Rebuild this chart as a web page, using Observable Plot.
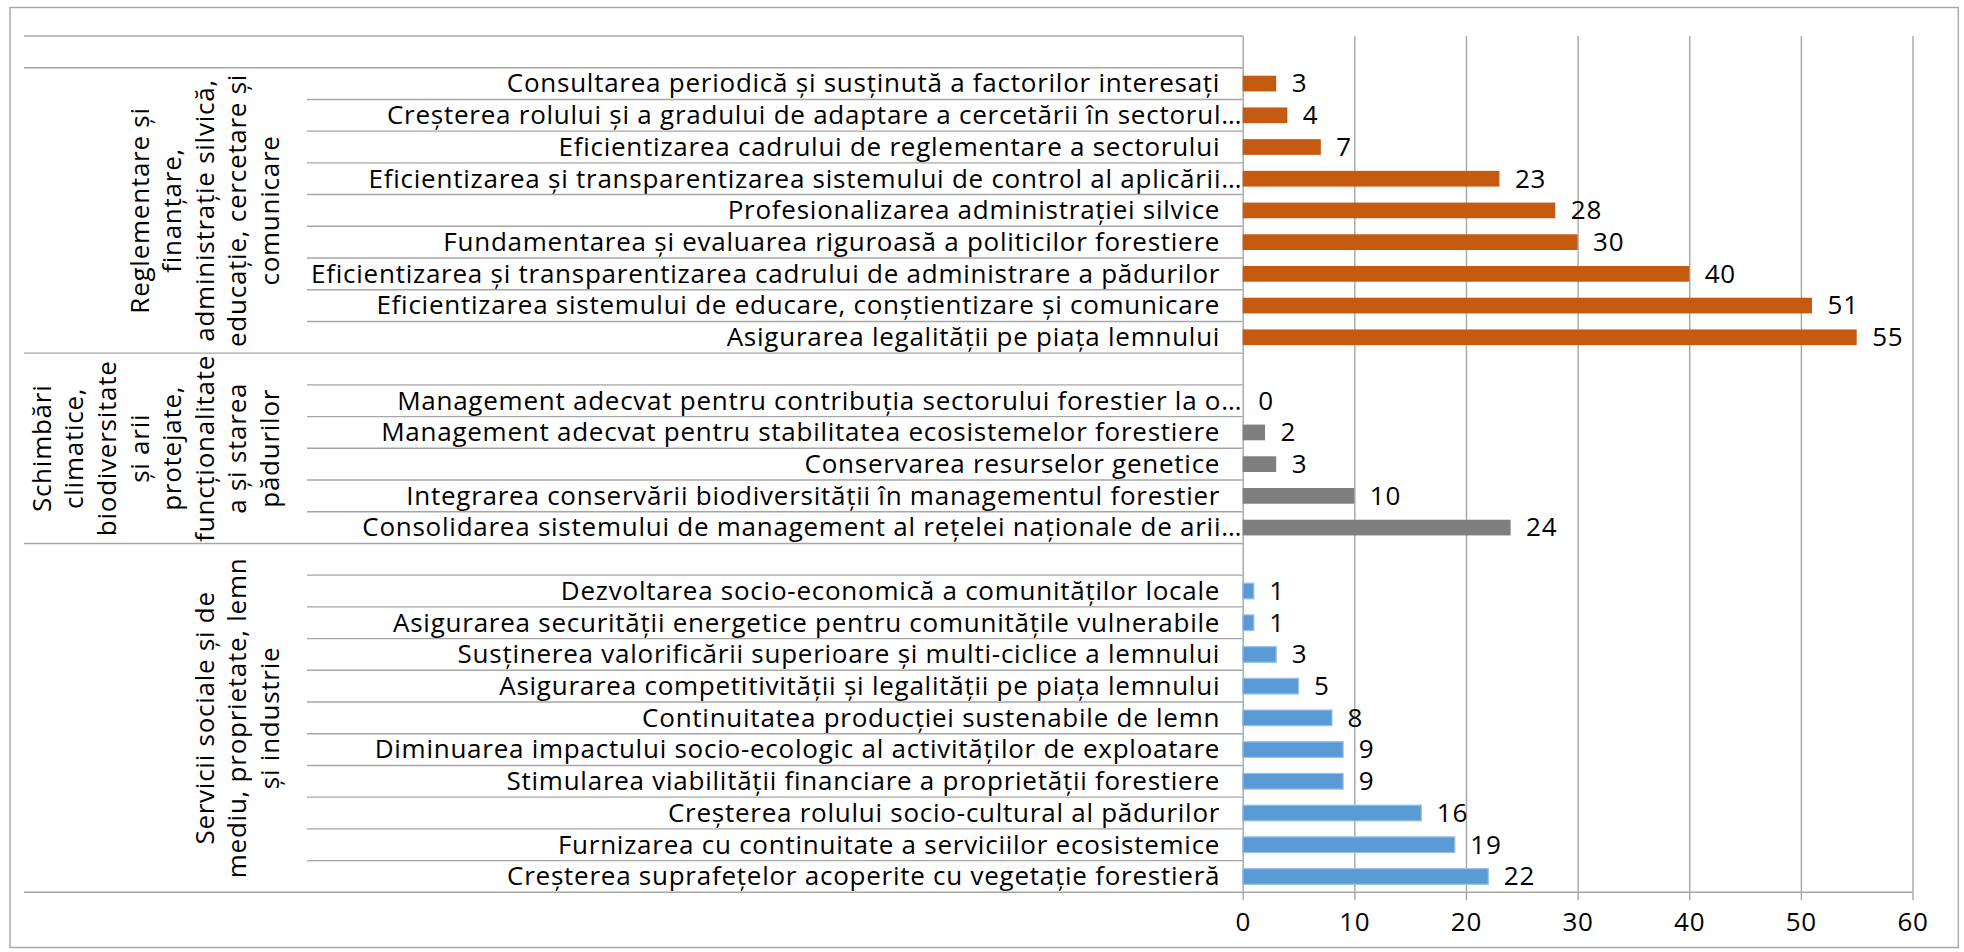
<!DOCTYPE html>
<html>
<head>
<meta charset="utf-8">
<script src="https://cdn.jsdelivr.net/npm/d3@7"></script>
<script src="https://cdn.jsdelivr.net/npm/@observablehq/plot@0.6"></script>
<style>
  html, body { margin: 0; padding: 0; background: #fff; }
  #chart { width: 1964px; height: 952px; }
</style>
</head>
<body>
<div id="chart"></div>
<script>
// ---------- DATA ----------
const groupIds = ["reg", "clima", "serv"];
const groupColors = ["#C55A11", "#7F7F7F", "#5B9BD5"];

const groupLabelLines = {
  reg: ["Reglementare și", "finanțare,", "administrație silvică,", "educație, cercetare și", "comunicare"],
  clima: ["Schimbări", "climatice,", "biodiversitate", "și arii", "protejate,", "funcționalitate", "a și starea", "pădurilor"],
  serv: ["Servicii sociale și de", "mediu, proprietate, lemn", "și industrie"]
};

const regLabels = [
  "Consultarea periodică și susținută a factorilor interesați",
  "Creșterea rolului și a gradului de adaptare a cercetării în sectorul…",
  "Eficientizarea cadrului de reglementare a sectorului",
  "Eficientizarea și transparentizarea sistemului de control al aplicării…",
  "Profesionalizarea administrației silvice",
  "Fundamentarea și evaluarea riguroasă a politicilor forestiere",
  "Eficientizarea și transparentizarea cadrului de administrare a pădurilor",
  "Eficientizarea sistemului de educare, conștientizare și comunicare",
  "Asigurarea legalității pe piața lemnului"
];
const regValues = [3, 4, 7, 23, 28, 30, 40, 51, 55];

const climaLabels = [
  "Management adecvat pentru contribuția sectorului forestier la o…",
  "Management adecvat pentru stabilitatea ecosistemelor forestiere",
  "Conservarea resurselor genetice",
  "Integrarea conservării biodiversității în managementul forestier",
  "Consolidarea sistemului de management al rețelei naționale de arii…"
];
const climaValues = [0, 2, 3, 10, 24];

const servLabels = [
  "Dezvoltarea socio-economică a comunităților locale",
  "Asigurarea securității energetice pentru comunitățile vulnerabile",
  "Susținerea valorificării superioare și multi-ciclice a lemnului",
  "Asigurarea competitivității și legalității pe piața lemnului",
  "Continuitatea producției sustenabile de lemn",
  "Diminuarea impactului socio-ecologic al activităților de exploatare",
  "Stimularea viabilității financiare a proprietății forestiere",
  "Creșterea rolului socio-cultural al pădurilor",
  "Furnizarea cu continuitate a serviciilor ecosistemice",
  "Creșterea suprafețelor acoperite cu vegetație forestieră"
];
const servValues = [1, 1, 3, 5, 8, 9, 9, 16, 19, 22];

const xTicks = [0, 10, 20, 30, 40, 50, 60];

// ---------- TABLE (rows top to bottom, incl. blank category slots) ----------
const rows = [];
let blankCount = 0;
function addBlank(group) { rows.push({key: "__blank" + (blankCount++), label: "", value: null, group, blank: true}); }
function addGroup(group, labels, values, leadingBlank) {
  if (leadingBlank) addBlank(group);
  labels.forEach((l, i) => rows.push({key: group + i, label: l, value: values[i], group, blank: false}));
}
addBlank("top");
addGroup("reg", regLabels, regValues, false);
addGroup("clima", climaLabels, climaValues, true);
addGroup("serv", servLabels, servValues, true);

const data = rows.filter(r => !r.blank);
const keys = rows.map(r => r.key);
const truncated = d => d.label.endsWith("…");

const FONT = "'Open Sans', 'Noto Sans', sans-serif";
const FONT_SIZE = 26;
const SPACING = "0.75px";
const GRID = "#a6a6a6";

const chart = Plot.plot({
  width: 1964,
  height: 952,
  marginLeft: 1242.7,
  marginRight: 51.5,
  marginTop: 36,
  marginBottom: 59.7,
  style: {fontFamily: FONT, fontSize: FONT_SIZE + "px", letterSpacing: SPACING, background: "#fff", color: "#000", overflow: "visible"},
  x: {domain: [0, 60], label: null},
  y: {domain: keys, padding: 0, round: false, axis: null},
  color: {domain: groupIds, range: groupColors},
  marks: [
    Plot.gridX(xTicks, {stroke: GRID, strokeOpacity: 1, strokeWidth: 1.4}),
    Plot.axisX({ticks: xTicks, tickSize: 8, tickPadding: 12, stroke: GRID, strokeOpacity: 1, strokeWidth: 1.4, fill: "#000", tickFormat: d => String(d), label: null}),
    Plot.barX(data, {y: "key", x: "value", fill: "group", insetTop: 8, insetBottom: 8}),
    Plot.barX(data.filter(d => d.group === "serv"), {y: "key", x: "value", fill: "none", stroke: "#9cc2e8", strokeWidth: 1.2, insetTop: 8, insetBottom: 8}),
    Plot.text(data, {y: "key", x: "value", text: d => String(d.value), textAnchor: "start", dx: 15, fill: "#000"}),
    Plot.text(data.filter(d => !truncated(d)), {y: "key", text: "label", frameAnchor: "left", textAnchor: "end", dx: -23, fill: "#000"}),
    Plot.text(data.filter(truncated), {y: "key", text: "label", frameAnchor: "left", textAnchor: "end", dx: -1, fill: "#000"})
  ]
});

document.getElementById("chart").appendChild(chart);

// ---------- Table lines and group labels, positioned with Plot's own scales ----------
const ys = chart.scale("y");
const xs = chart.scale("x");
const yTop = ys.range[0], yBot = ys.range[1];
const step = (yBot - yTop) / ys.domain.length;
const rowStart = i => yTop + i * step;
const x0 = xs.apply(0), x60 = xs.apply(60);

const LEFT_GROUP = 24;     // left end of group divider lines
const LEFT_ITEM = 307;     // left end of item divider lines
const LAST_BASELINE = 279; // baseline of last line of each rotated group label
const LINE_GAP = 32.6;

const svg = d3.select(chart);
const g = svg.append("g").attr("class", "table");

for (let i = 0; i <= rows.length; i++) {
  const isGroupEdge = i === 0 || i === rows.length || rows[i].group !== rows[i - 1].group;
  g.append("line")
    .attr("x1", isGroupEdge ? LEFT_GROUP : LEFT_ITEM)
    .attr("x2", i === rows.length ? x60 : x0)
    .attr("y1", rowStart(i)).attr("y2", rowStart(i))
    .attr("stroke", GRID).attr("stroke-width", 1.4);
}

groupIds.forEach(gid => {
  const idx = rows.map((r, i) => r.group === gid ? i : -1).filter(i => i >= 0);
  const cy = (rowStart(idx[0]) + rowStart(idx[idx.length - 1] + 1)) / 2;
  const lines = groupLabelLines[gid];
  lines.forEach((t, j) => {
    const bx = LAST_BASELINE - (lines.length - 1 - j) * LINE_GAP;
    g.append("text")
      .attr("transform", `translate(${bx},${cy}) rotate(-90)`)
      .attr("text-anchor", "middle")
      .attr("fill", "#000")
      .attr("font-family", FONT)
      .attr("font-size", FONT_SIZE)
      .style("letter-spacing", SPACING)
      .text(t);
  });
});

// outer chart border
svg.append("rect")
  .attr("x", 10).attr("y", 7.5).attr("width", 1948.3).attr("height", 940)
  .attr("fill", "none").attr("stroke", GRID).attr("stroke-width", 1.4);
</script>
</body>
</html>
